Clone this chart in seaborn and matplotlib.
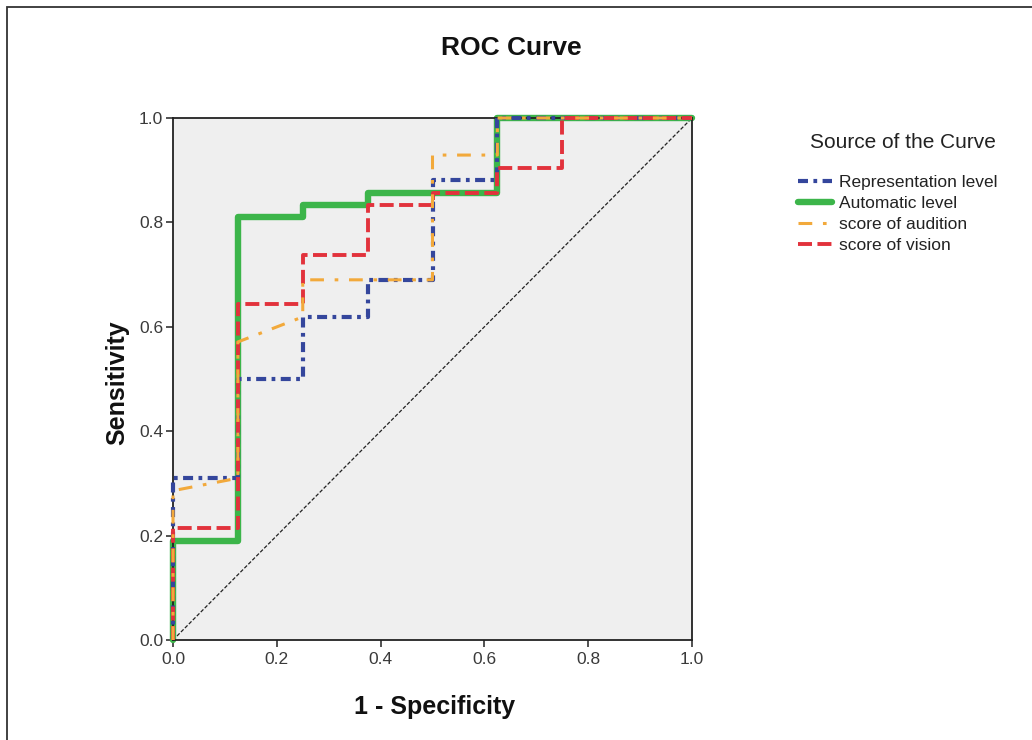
import matplotlib
matplotlib.use("Agg")
import matplotlib.pyplot as plt
import pandas as pd
import seaborn as sns
from matplotlib.patches import Rectangle

# pontos das curvas ROC: (1 - especificidade, sensibilidade)
rep_fpr = [0, 0, 0.125, 0.125, 0.25, 0.25, 0.375, 0.375, 0.5, 0.5, 0.625, 0.625, 1]
rep_tpr = [0, 0.31, 0.31, 0.5, 0.5, 0.619, 0.619, 0.69, 0.69, 0.881, 0.881, 1, 1]

auto_fpr = [0, 0, 0.125, 0.125, 0.25, 0.25, 0.375, 0.375, 0.625, 0.625, 1]
auto_tpr = [0, 0.19, 0.19, 0.81, 0.81, 0.833, 0.833, 0.857, 0.857, 1, 1]

aud_fpr = [0, 0, 0.125, 0.125, 0.25, 0.25, 0.5, 0.5, 0.625, 0.625, 1]
aud_tpr = [0, 0.286, 0.31, 0.571, 0.619, 0.69, 0.69, 0.929, 0.929, 1, 1]

vis_fpr = [0, 0, 0.125, 0.125, 0.25, 0.25, 0.375, 0.375, 0.5, 0.5, 0.625, 0.625, 0.75, 0.75, 1]
vis_tpr = [0, 0.214, 0.214, 0.643, 0.643, 0.738, 0.738, 0.833, 0.833, 0.857, 0.857, 0.905, 0.905, 1, 1]

nomes = ["Representation level", "Automatic level", "score of audition", "score of vision"]
ref_x = [0, 1]
ref_y = [0, 1]

sns.set_style("ticks")
plt.rcParams['font.family'] = ['Liberation Sans', 'DejaVu Sans']

fig = plt.figure(figsize=(10.32, 7.4), dpi=100)
ax = fig.add_axes([173 / 1032, 1 - 640 / 740, 519 / 1032, 522 / 740])
ax.set_facecolor("#efefef")

# estilo de cada curva (cor, espessura, tracejado, ordem)
estilos = {
    "Representation level": dict(color="#34469c", linewidth=3.0, linestyle=(0, (2.4, 1.3, 0.9, 1.3)), zorder=3),
    "Automatic level": dict(color="#3cb54a", linewidth=4.6, linestyle="-", zorder=2),
    "score of audition": dict(color="#f2a93b", linewidth=2.2, linestyle=(0, (4.5, 3.5, 1.2, 3.5)), zorder=5),
    "score of vision": dict(color="#e2323c", linewidth=2.8, linestyle=(0, (3.6, 1.4)), zorder=4),
}

dados = [
    (rep_fpr, rep_tpr),
    (auto_fpr, auto_tpr),
    (aud_fpr, aud_tpr),
    (vis_fpr, vis_tpr),
]

for nome, (fx, fy) in zip(nomes, dados):
    df = pd.DataFrame({"fpr": fx, "tpr": fy})
    sns.lineplot(data=df, x="fpr", y="tpr", sort=False, estimator=None, ax=ax,
                 label=nome, clip_on=False, **estilos[nome])

# linha de referencia
sns.lineplot(x=ref_x, y=ref_y, ax=ax, color="#222222", linewidth=0.9,
             linestyle=(0, (3, 1.5)), zorder=1, legend=False)

ax.set_xlim(0, 1)
ax.set_ylim(0, 1)
ax.set_xticks([0, 0.2, 0.4, 0.6, 0.8, 1.0])
ax.set_yticks([0, 0.2, 0.4, 0.6, 0.8, 1.0])
ax.set_xticklabels(["0.0", "0.2", "0.4", "0.6", "0.8", "1.0"])
ax.set_yticklabels(["0.0", "0.2", "0.4", "0.6", "0.8", "1.0"])
ax.tick_params(labelsize=12.5, labelcolor="#3a3a3a", length=5, width=1.1,
               color="#222222", direction="out", pad=2)
ax.tick_params(axis="x", pad=4)
for s in ax.spines.values():
    s.set_color("#222222")
    s.set_linewidth(1.3)
ax.set_xlabel("")
ax.set_ylabel("")

leg = ax.get_legend()
handles, labels = ax.get_legend_handles_labels()
leg.remove()
fig.legend(handles, labels, loc="upper left", bbox_to_anchor=(798 / 1032, 1 - 175 / 740),
           frameon=False, fontsize=12.5, labelspacing=0.33, handlelength=1.95,
           handletextpad=0.4, borderpad=0, borderaxespad=0, labelcolor="#222222")

fig.text(810 / 1032, 1 - 143 / 740, "Source of the Curve", fontsize=15,
         ha="left", va="center", color="#222222")
fig.text(511 / 1032, 1 - 48 / 740, "ROC Curve", fontsize=19, fontweight="bold",
         ha="center", va="center", color="#111111")
fig.text(435 / 1032, 1 - 707 / 740, "1 - Specificity", fontsize=18, fontweight="bold",
         ha="center", va="center", color="#111111")
fig.text(117 / 1032, 1 - 383 / 740, "Sensitivity", fontsize=18, fontweight="bold",
         rotation=90, ha="center", va="center", color="#111111")

# moldura da figura
fig.patches.append(Rectangle((7 / 1032, -0.1), 1.2, 0.1 + 1 - 7 / 740, transform=fig.transFigure,
                             fill=False, edgecolor="#333333", linewidth=1.3))

fig.savefig("out.png", dpi=100)
